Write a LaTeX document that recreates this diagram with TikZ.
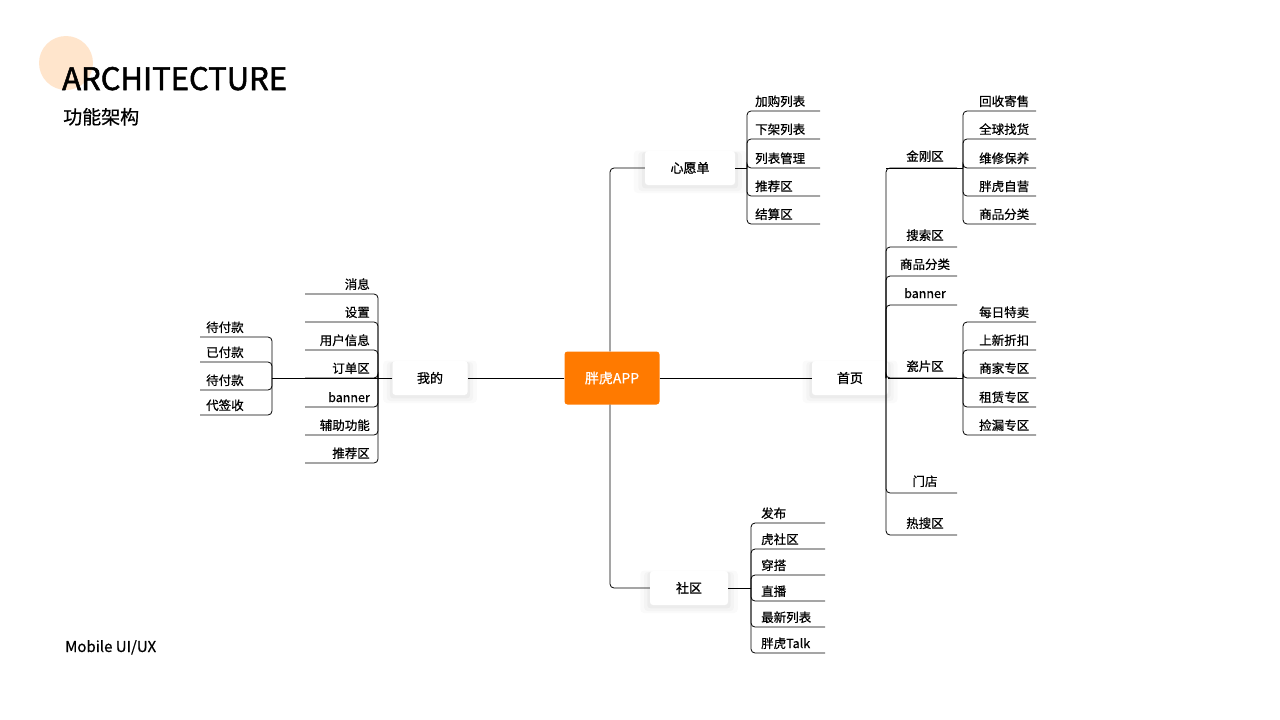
\documentclass[tikz,border=0pt]{standalone}
\usepackage{fontspec}
\setmainfont{Noto Sans CJK SC}[FakeBold=0.6]
\newfontfamily\titlef{Noto Sans CJK SC}[FakeBold=1.6]
\newfontfamily\boxf{Noto Sans CJK SC}[FakeBold=1.0]
\usetikzlibrary{shadows}
\begin{document}
\begin{tikzpicture}[x=1pt,y=-1pt,
  ln/.style={line width=0.8pt,rounded corners=4pt},
  t/.style={font=\fontsize{12.5}{14}\selectfont,inner sep=0pt},
  box/.style={fill=white,rounded corners=3pt,
    general shadow={fill=black,opacity=0.02,shadow scale=1.25,shadow yshift=-3pt,rounded corners=8pt},
    general shadow={fill=black,opacity=0.025,shadow scale=1.15,shadow yshift=-3pt,rounded corners=6pt},
    general shadow={fill=black,opacity=0.03,shadow scale=1.07,shadow yshift=-2pt},
    font=\boxf\fontsize{13}{15}\selectfont,inner sep=0pt}]
\useasboundingbox (0,0) rectangle (1280,720);
\fill[fill=orange!20!white] (66,63) circle (27);
\node[anchor=base west,inner sep=0pt,font=\titlef\fontsize{31}{34}\selectfont] (title) at (62,90) {ARCHITECTURE};
\node[anchor=base west,inner sep=0pt,font=\fontsize{19}{22}\selectfont] (sub) at (63,124) {功能架构};
\node[anchor=base west,inner sep=0pt,font=\fontsize{15}{18}\selectfont] (mob) at (65,652) {Mobile UI/UX};
% center
\node[fill=orange!90!red!95!yellow,rounded corners=3pt,minimum width=95,minimum height=53,text=white,font=\fontsize{14}{16}\selectfont] (app) at (612,378) {胖虎APP};
\node[box,minimum width=75,minimum height=34] (me) at (430,378) {我的};
\node[box,minimum width=76,minimum height=34] (home) at (850,378) {首页};
\node[box,minimum width=90,minimum height=34] (wish) at (690,168) {心愿单};
\node[box,minimum width=78,minimum height=34] (soc) at (689,588) {社区};
\draw[ln] (app.west) -- (me.east);
\draw[ln] (app.east) -- (home.west);
\draw[ln] (app.north -| 610,0) -- (610,168) -- (wish.west);
\draw[ln] (app.south -| 610,0) -- (610,588) -- (soc.west);
% 我的
\coordinate (mj) at (378,378);
\draw[ln] (me.west) -- (272,378);
\foreach \y/\s in {294/消息,322/设置,350/用户信息,378/订单区,407/banner,435/辅助功能,463/推荐区}{
  \draw[ln] (305,\y) -- (378,\y) -- (mj);
  \node[t,anchor=base east] at (370,\y-5) {\s};}
\foreach \y/\s in {337/待付款,362/已付款,390/待付款,415/代签收}{
  \draw[ln] (200,\y) -- (272,\y) -- (272,378);
  \node[t,anchor=base west] at (206,\y-5) {\s};}
% 心愿单
\draw[ln] (wish.east) -- (747,168);
\foreach \y/\s in {111/加购列表,139/下架列表,168/列表管理,196/推荐区,224/结算区}{
  \draw[ln] (820,\y) -- (747,\y) -- (747,168);
  \node[t,anchor=base west] at (755,\y-5) {\s};}
% 社区
\draw[ln] (soc.east) -- (751,588);
\foreach \y/\s in {523/发布,549/虎社区,575/穿搭,601/直播,627/最新列表,653/胖虎Talk}{
  \draw[ln] (825,\y) -- (751,\y) -- (751,588);
  \node[t,anchor=base west] at (761,\y-5) {\s};}
% 首页
\draw[ln] (home.east) -- (963,378);
\foreach \y/\s in {168/金刚区,247/搜索区,276/商品分类,305/banner,378/瓷片区,493/门店,535/热搜区}{
  \draw[ln] (957,\y) -- (886,\y) -- (886,378);
  \node[t,anchor=base] at (925,\y-7) {\s};}
\draw[ln] (886,168) -- (963,168);
\foreach \y/\s in {111/回收寄售,139/全球找货,168/维修保养,196/胖虎自营,224/商品分类}{
  \draw[ln] (1036,\y) -- (963,\y) -- (963,168);
  \node[t,anchor=base west] at (979,\y-5) {\s};}
\foreach \y/\s in {322/每日特卖,350/上新折扣,378/商家专区,407/租赁专区,435/捡漏专区}{
  \draw[ln] (1036,\y) -- (963,\y) -- (963,378);
  \node[t,anchor=base west] at (979,\y-5) {\s};}
\end{tikzpicture}
\end{document}
